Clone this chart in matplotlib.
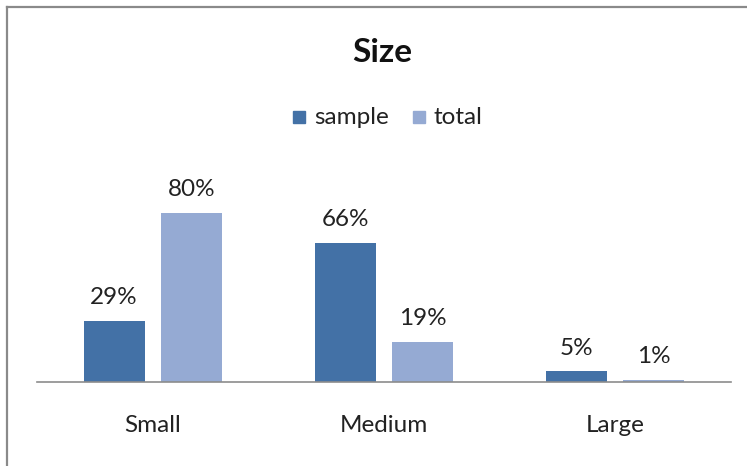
import matplotlib.pyplot as plt
import numpy as np
from matplotlib.lines import Line2D
from matplotlib.patches import Rectangle

plt.rcParams['font.family'] = ['Lato', 'DejaVu Sans']

categories = ['Small', 'Medium', 'Large']
sample = [29, 66, 5]
total = [80, 19, 1]
series_names = ['sample', 'total']
colors = ['#4371A6', '#95AAD3']

W, H = 747, 466
fig = plt.figure(figsize=(W / 100, H / 100), dpi=100)

# frame around the chart (only top and left edges show)
fig.add_artist(Line2D([7 / W, 7 / W], [0, 1 - 7 / H], color='#8a8a8a', lw=1.6))
fig.add_artist(Line2D([7 / W, 1], [1 - 7 / H, 1 - 7 / H], color='#8a8a8a', lw=1.6))

left, right, base = 37, 731, 382
top = base - 211.25  # 100% height
ax = fig.add_axes([left / W, 1 - base / H, (right - left) / W, (base - top) / H])

x = np.arange(len(categories))
bw = 61 / 231
off = 38.5 / 231
b1 = ax.bar(x - off, sample, bw, color=colors[0], label=series_names[0])
b2 = ax.bar(x + off, total, bw, color=colors[1], label=series_names[1])

fs = 17.5
for bars, vals in ((b1, sample), (b2, total)):
    for r, v in zip(bars, vals):
        ax.text(r.get_x() + r.get_width() / 2, v + 6, f'{v}%', ha='center',
                va='bottom', fontsize=fs, color='#222222')

ax.set_xlim(-0.5, 2.5)
ax.set_ylim(0, 100)
ax.set_xticks(x)
ax.set_xticklabels(categories, fontsize=fs, color='#222222')
ax.tick_params(axis='x', length=0, pad=24)
ax.set_yticks([])
for s in ('top', 'left', 'right'):
    ax.spines[s].set_visible(False)
ax.spines['bottom'].set_color('#8c8c8c')
ax.spines['bottom'].set_linewidth(1.2)

fig.text(382 / W, 1 - 52 / H, 'Size', ha='center', va='center',
         fontsize=24, fontweight='bold', color='#111111')

# legend
for i, (lx, name) in enumerate(((293, 'sample'), (413, 'total'))):
    fig.add_artist(Rectangle((lx / W, 1 - 123 / H), 12 / W, 12 / H,
                             color=colors[i], transform=fig.transFigure))
    fig.text((lx + 21) / W, 1 - 117 / H, name, ha='left', va='center',
             fontsize=fs, color='#222222')

fig.savefig('out.png', dpi=100)
